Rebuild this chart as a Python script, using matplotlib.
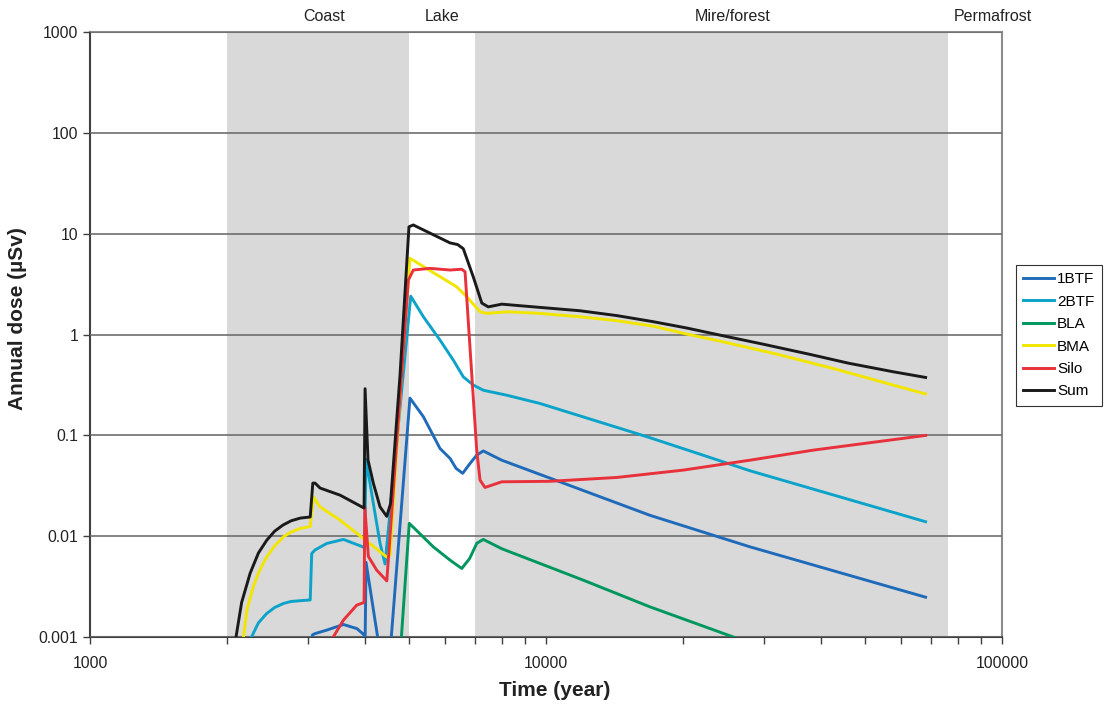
import matplotlib
matplotlib.use('Agg')
import matplotlib.pyplot as plt
from matplotlib.ticker import LogLocator, FixedLocator, FixedFormatter, NullFormatter
import matplotlib.transforms as mtransforms

plt.rcParams['font.family'] = ['Liberation Sans', 'DejaVu Sans']

# landscape periods (year)
zones = ['Coast', 'Lake', 'Mire/forest', 'Permafrost']
zone_label_x = [3260, 5925, 25700, 95500]
shade_spans = [(2000, 5000), (7000, 76000)]

# 1BTF
btf1_t = [3040, 3075, 3115, 3305, 3595, 3850, 3990, 4005, 4030, 4325, 4550, 5030, 5383,
          5855, 6160, 6350, 6566, 6800, 7047, 7285, 7995, 16900, 28020, 68000]
btf1_d = [0.0006, 0.00105, 0.00108, 0.00117, 0.00133, 0.00121, 0.00105, 0.0005, 0.0055,
          0.0007, 0.0007, 0.234, 0.153, 0.074, 0.059, 0.047, 0.042, 0.052, 0.0637, 0.070,
          0.0567, 0.0161, 0.00783, 0.00248]

# 2BTF
btf2_t = [2260, 2340, 2440, 2540, 2655, 2760, 2890, 3040, 3063, 3115, 3305, 3595, 3975,
          4000, 4030, 4181, 4325, 4436, 5050, 5383, 5855, 6262, 6586, 6928, 7285, 8200,
          9700, 16630, 21770, 28020, 68000]
btf2_d = [0.001, 0.00138, 0.00171, 0.00196, 0.00215, 0.00225, 0.00229, 0.00233, 0.00673,
          0.0073, 0.00847, 0.00928, 0.0078, 0.0076, 0.058, 0.0211, 0.0085, 0.0053, 2.4,
          1.50, 0.88, 0.557, 0.38, 0.315, 0.28, 0.25, 0.207, 0.097, 0.065, 0.0445, 0.0139]

# BLA
bla_t = [4780, 5013, 5660, 6160, 6534, 6800, 7050, 7285, 8000, 12070, 16900, 25740, 68000]
bla_d = [0.0006, 0.0134, 0.00783, 0.00578, 0.00478, 0.0060, 0.0085, 0.00928, 0.0075,
         0.00366, 0.00199, 0.001, 0.0002]

# BMA
bma_t = [2170, 2210, 2280, 2350, 2440, 2540, 2655, 2760, 2890, 3040, 3090, 3195, 3535,
         3975, 4475, 4550, 4830, 5030, 6370, 6700, 7170, 7410, 8200, 9700, 11870, 14300,
         17190, 20350, 24070, 32000, 42660, 68000]
bma_d = [0.001, 0.0019, 0.00314, 0.0045, 0.00623, 0.0080, 0.00984, 0.0110, 0.0119, 0.0125,
         0.0245, 0.0195, 0.0144, 0.0095, 0.0062, 0.0065, 0.46, 5.7, 2.97, 2.37, 1.68, 1.62,
         1.68, 1.62, 1.50, 1.37, 1.21, 1.01, 0.86, 0.64, 0.46, 0.257]

# Silo
silo_t = [3415, 3595, 3845, 3990, 4005, 4077, 4253, 4475, 4990, 5117, 5566, 6160, 6534,
          6644, 7047, 7166, 7348, 7995, 10200, 14290, 20000, 28020, 38540, 68000]
silo_d = [0.001, 0.00147, 0.00207, 0.0022, 0.0195, 0.0063, 0.0046, 0.0036, 3.46, 4.36,
          4.53, 4.36, 4.44, 4.19, 0.0713, 0.036, 0.0304, 0.0346, 0.035, 0.0382, 0.0452,
          0.0567, 0.0713, 0.0998]

# Sum
sum_t = [2090, 2150, 2245, 2340, 2440, 2540, 2650, 2760, 2890, 3040, 3080, 3115, 3195,
         3535, 3990, 4010, 4070, 4181, 4325, 4475, 4560, 4785, 5005, 5115, 6160, 6400,
         6585, 6930, 7230, 7470, 8000, 8770, 11870, 14300, 17190, 20350, 24070, 30000,
         37930, 46000, 57760, 68000]
sum_d = [0.001, 0.0022, 0.0043, 0.0068, 0.0091, 0.0112, 0.0129, 0.0142, 0.0151, 0.0155,
         0.0336, 0.0336, 0.030, 0.0255, 0.019, 0.29, 0.057, 0.0335, 0.0195, 0.0157, 0.021,
         0.4, 11.7, 12.2, 8.1, 7.8, 7.1, 3.7, 2.05, 1.88, 2.0, 1.93, 1.72, 1.54, 1.34, 1.16,
         0.986, 0.80, 0.635, 0.52, 0.427, 0.375]

series = [
    ('1BTF', btf1_t, btf1_d, '#1F6BBA'),
    ('2BTF', btf2_t, btf2_d, '#0BA3C9'),
    ('BLA', bla_t, bla_d, '#00975F'),
    ('BMA', bma_t, bma_d, '#F2E500'),
    ('Silo', silo_t, silo_d, '#E8313B'),
    ('Sum', sum_t, sum_d, '#1A1A1A'),
]

fig = plt.figure(figsize=(11.09, 7.04), dpi=100)
ax = fig.add_axes([0.0812, 0.0952, 0.8223, 0.8593])

for a, b in shade_spans:
    ax.axvspan(a, b, color='#D9D9D9', lw=0, zorder=0)

for lab, t, d, c in series:
    ax.plot(t, d, color=c, lw=2.1, label=lab, zorder=3, solid_joinstyle='round')

ax.set_xscale('log')
ax.set_yscale('log')
ax.set_xlim(1000, 100000)
ax.set_ylim(0.001, 1000)

yt = [0.001, 0.01, 0.1, 1, 10, 100, 1000]
ax.yaxis.set_major_locator(FixedLocator(yt))
ax.yaxis.set_major_formatter(FixedFormatter(['0.001', '0.01', '0.1', '1', '10', '100', '1000']))
ax.yaxis.set_minor_locator(FixedLocator([]))
ax.xaxis.set_major_locator(FixedLocator([1000, 10000, 100000]))
ax.xaxis.set_major_formatter(FixedFormatter(['1000', '10000', '100000']))
ax.xaxis.set_minor_locator(LogLocator(base=10, subs=range(2, 10)))
ax.xaxis.set_minor_formatter(NullFormatter())

ax.tick_params(axis='both', which='major', direction='out', length=5, width=1,
               color='#404040', labelsize=11.3, labelcolor='#222222')
ax.tick_params(axis='x', which='minor', direction='out', length=5, width=1, color='#404040')
ax.tick_params(axis='x', pad=9)

ax.grid(True, axis='y', which='major', color='#6E6E6E', lw=1.2, zorder=1)
ax.set_axisbelow(False)
for s in ['left', 'bottom']:
    ax.spines[s].set_color('#404040')
    ax.spines[s].set_linewidth(1.5)
for s in ['top', 'right']:
    ax.spines[s].set_color('#8C8C8C')
    ax.spines[s].set_linewidth(1.5)

ax.set_xlabel('Time (year)', fontsize=15, fontweight='bold', color='#222222')
ax.set_ylabel('Annual dose (µSv)', fontsize=15, fontweight='bold', color='#222222')
ax.xaxis.set_label_coords(0.509, -0.073)
ax.yaxis.set_label_coords(-0.069, 0.527)

trans = mtransforms.blended_transform_factory(ax.transData, ax.transAxes)
for name, x in zip(zones, zone_label_x):
    ax.text(x, 1.025, name, transform=trans, ha='center', va='center',
            fontsize=11.5, color='#222222', clip_on=False)

leg = fig.legend(loc='upper left', bbox_to_anchor=(0.916, 0.624), fontsize=11,
                 frameon=True, fancybox=False, handlelength=2.0, handletextpad=0.2,
                 labelspacing=0.55, borderpad=0.5, borderaxespad=0)
leg.get_frame().set_edgecolor('black')
leg.get_frame().set_linewidth(0.8)

fig.savefig('out.png', dpi=100)
